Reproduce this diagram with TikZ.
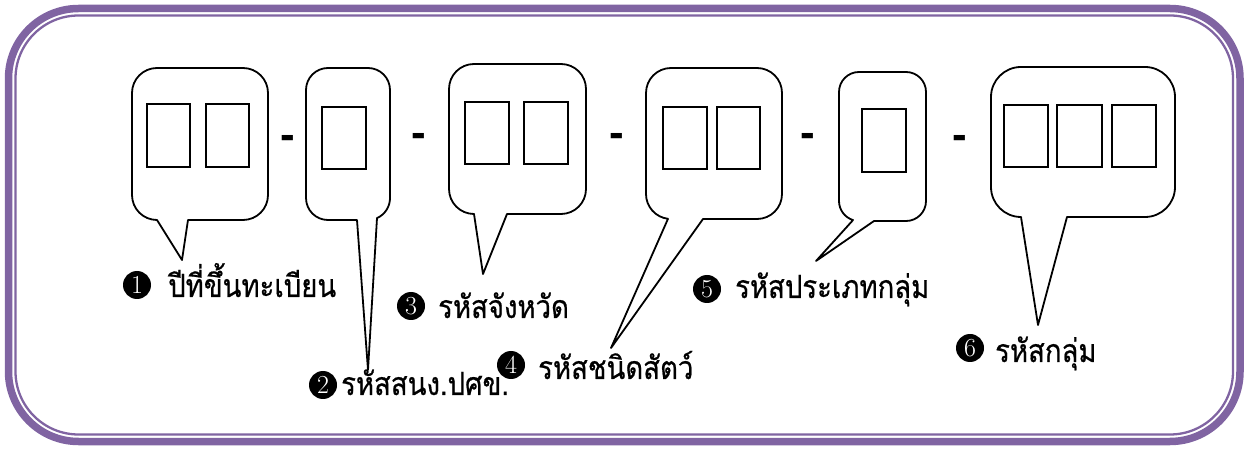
\documentclass[tikz,border=0pt]{standalone}
\usepackage{fontspec}
\newfontfamily\thaifont[Script=Thai,FakeStretch=0.86,FakeBold=0.6]{Loma}
\newfontfamily\dashfont{Liberation Sans}
\definecolor{purp}{HTML}{8064A2}
\begin{document}
\begin{tikzpicture}[x=1pt,y=1pt,
  bubble/.style={draw=black,line width=1.8pt,fill=white,line join=round},
  digitbox/.style={draw=black,line width=1.8pt},
  frameout/.style={draw=purp,line width=7.5pt,rounded corners=70pt},
  framein/.style={draw=purp,line width=2.3pt,rounded corners=63pt},
  sep/.style={font=\dashfont\bfseries\fontsize{44}{44}\selectfont,inner sep=0pt,anchor=base},
  num/.style={circle,fill=black,minimum size=28pt,inner sep=0pt,text=white,font=\fontsize{26}{26}\selectfont},
  lab/.style={font=\thaifont\fontsize{32}{38}\selectfont,inner sep=0pt,anchor=base west}]
\useasboundingbox (0,0) rectangle (1248,450);
% frame
\draw[frameout] (8.5,8.5) rectangle (1240,441.5);
\draw[framein] (15.5,15.5) rectangle (1233,434.5);
% bubble 1
\draw[bubble] (157,230) -- (182,190) -- (188,230) -- (243,230) arc[start angle=-90,end angle=0,radius=25] -- (268,357) arc[start angle=0,end angle=90,radius=25] -- (157,382) arc[start angle=90,end angle=180,radius=25] -- (132,255) arc[start angle=180,end angle=270,radius=25] -- cycle;
% bubble 2
\draw[bubble] (357,230) -- (368,80) -- (377,231.9) arc[start angle=-65.9,end angle=0,radius=22] -- (390,360) arc[start angle=0,end angle=90,radius=22] -- (328,382) arc[start angle=90,end angle=180,radius=22] -- (306,252) arc[start angle=180,end angle=270,radius=22] -- cycle;
% bubble 3
\draw[bubble] (474,236) -- (483,176) -- (507,236) -- (561,236) arc[start angle=-90,end angle=0,radius=25] -- (586,361) arc[start angle=0,end angle=90,radius=25] -- (474,386) arc[start angle=90,end angle=180,radius=25] -- (449,261) arc[start angle=180,end angle=270,radius=25] -- cycle;
% bubble 4
\draw[bubble] (668,231.2) -- (611,102) -- (703,231) -- (757,231) arc[start angle=-90,end angle=0,radius=25] -- (782,357) arc[start angle=0,end angle=90,radius=25] -- (671,382) arc[start angle=90,end angle=180,radius=25] -- (646,256) arc[start angle=180,end angle=263.1,radius=25] -- cycle;
% bubble 5
\draw[bubble] (853,229.9) -- (816,189) -- (874,229) -- (906,229) arc[start angle=-90,end angle=0,radius=20] -- (926,358) arc[start angle=0,end angle=90,radius=20] -- (859,378) arc[start angle=90,end angle=180,radius=20] -- (839,249) arc[start angle=180,end angle=252.5,radius=20] -- cycle;
% bubble 6
\draw[bubble] (1021,233) -- (1038,125) -- (1067,233) -- (1145,233) arc[start angle=-90,end angle=0,radius=30] -- (1175,353) arc[start angle=0,end angle=90,radius=30] -- (1021,383) arc[start angle=90,end angle=180,radius=30] -- (991,263) arc[start angle=180,end angle=270,radius=30] -- cycle;
% digit boxes
\draw[digitbox] (147,283) rectangle (190,346);
\draw[digitbox] (206,283) rectangle (249,346);
\draw[digitbox] (322,281) rectangle (366,343);
\draw[digitbox] (465,286) rectangle (509,348);
\draw[digitbox] (524,286) rectangle (568,348);
\draw[digitbox] (663,281) rectangle (707,343);
\draw[digitbox] (717,281) rectangle (760,343);
\draw[digitbox] (862,278) rectangle (906,341);
\draw[digitbox] (1004,283) rectangle (1048,345);
\draw[digitbox] (1057,283) rectangle (1102,345);
\draw[digitbox] (1112,283) rectangle (1156,345);
% separators
\node[sep] (s1) at (288,300) {-};
\node[sep] (s2) at (419,302) {-};
\node[sep] (s3) at (617,302) {-};
\node[sep] (s4) at (808,302) {-};
\node[sep] (s5) at (960,300) {-};
% labels
\node[num] (n1) at (137,165) {1};
\node[lab] (t1) at (168,153) {ปีที่ขึ้นทะเบียน};
\node[num] (n2) at (323,65) {2};
\node[lab] (t2) at (341,55) {รหัสสนง.ปศข.};
\node[num] (n3) at (411,144) {3};
\node[lab] (t3) at (438,132) {รหัสจังหวัด};
\node[num] (n4) at (511,85) {4};
\node[lab] (t4) at (538,71) {รหัสชนิดสัตว์};
\node[num] (n5) at (707,161) {5};
\node[lab] (t5) at (735,152) {รหัสประเภทกลุ่ม};
\node[num] (n6) at (970,102) {6};
\node[lab] (t6) at (995,88) {รหัสกลุ่ม};
\end{tikzpicture}
\end{document}
